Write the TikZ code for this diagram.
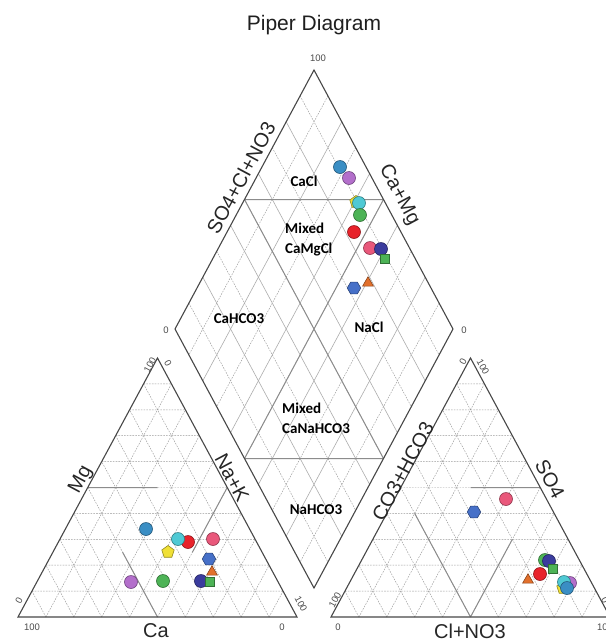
\documentclass[tikz,border=0pt]{standalone}
\usepackage{fontspec}
\setmainfont{Liberation Sans}
\newfontfamily\regionfont{Carlito}
\usetikzlibrary{calc,shapes.geometric}

\definecolor{cSteel}{HTML}{3A8EC4}
\definecolor{cPurple}{HTML}{B36FCB}
\definecolor{cCyan}{HTML}{4FC9D4}
\definecolor{cGreen}{HTML}{4DB356}
\definecolor{cRed}{HTML}{E8232B}
\definecolor{cPink}{HTML}{E9587B}
\definecolor{cNavy}{HTML}{3B3C9E}
\definecolor{cHex}{HTML}{4670C8}
\definecolor{cOrange}{HTML}{E2702C}
\definecolor{cYellow}{HTML}{F0E036}

\begin{document}
\begin{tikzpicture}[x=1pt,y=-1pt]
\tikzset{
  frame/.style={draw=black!72, line width=1.1pt, line join=miter},
  griddash/.style={draw=black!40, line width=0.45pt, dash pattern=on 1.6pt off 1.2pt},
  gridsolid/.style={draw=black!32, line width=0.6pt},
  classline/.style={draw=black!45, line width=1pt},
  tick/.style={font=\fontsize{9.5}{11}\selectfont, text=black!70, inner sep=0pt},
  axlab/.style={font=\fontsize{20}{24}\selectfont, text=black!85, inner sep=0pt},
  region/.style={font=\regionfont\bfseries\fontsize{15}{20}\selectfont, align=left, inner sep=0pt},
  mk/.style={draw=#1!62!black, fill=#1, line width=0.6pt, inner sep=0pt},
  circ/.style={mk=#1, circle, minimum size=13pt},
  sqr/.style={mk=#1, rectangle, minimum size=9pt},
  hexa/.style={mk=#1, regular polygon, regular polygon sides=6, minimum size=13.5pt},
  penta/.style={mk=#1, regular polygon, regular polygon sides=5, minimum size=13pt},
  tri/.style={mk=#1, regular polygon, regular polygon sides=3, minimum size=12.5pt}
}
\useasboundingbox[fill=white] (0,0) rectangle (606,641);

\coordinate (CaV) at (18,617);
\coordinate (NaV) at (297,617);
\coordinate (MgV) at (157.5,358);
\coordinate (CoV) at (331,617);
\coordinate (ClV) at (610,617);
\coordinate (SoV) at (470.5,358);
\coordinate (DT) at (314,70);
\coordinate (DL) at (175,329);
\coordinate (DR) at (453,329);
\coordinate (DB) at (314,588);

\foreach \P/\Q/\R in {CaV/NaV/MgV, CoV/ClV/SoV}{
  \foreach \i in {1,...,9}{
    \draw[griddash] ($(\P)!\i/10!(\R)$) -- ($(\Q)!\i/10!(\R)$)
      ($(\P)!\i/10!(\Q)$) -- ($(\P)!\i/10!(\R)$)
      ($(\Q)!\i/10!(\P)$) -- ($(\Q)!\i/10!(\R)$);
  }
}
\foreach \i in {1,...,9}{
  \ifodd\i \def\g{griddash}\else\def\g{gridsolid}\fi
  \draw[\g] ($(DT)!\i/10!(DL)$) -- ($(DR)!\i/10!(DB)$)
    ($(DT)!\i/10!(DR)$) -- ($(DL)!\i/10!(DB)$);
}

\draw[classline] (barycentric cs:CaV=.5,MgV=.5) -- (barycentric cs:CaV=.25,NaV=.25,MgV=.5)
  (barycentric cs:CaV=.5,NaV=.5) -- (barycentric cs:CaV=.5,NaV=.25,MgV=.25)
  (barycentric cs:NaV=.5,MgV=.5) -- (barycentric cs:NaV=.5,CaV=.25,MgV=.25);
\draw[classline] (barycentric cs:SoV=.5,ClV=.5) -- (barycentric cs:SoV=.5,CoV=.25,ClV=.25)
  (barycentric cs:CoV=.5,ClV=.5) -- (barycentric cs:CoV=.5,ClV=.1,SoV=.4)
  (barycentric cs:CoV=.5,ClV=.5) -- (barycentric cs:ClV=.5,CoV=.2,SoV=.3);
\draw[classline] ($(DT)!.5!(DL)$) -- ($(DR)!.5!(DB)$)
  ($(DT)!.5!(DR)$) -- ($(DL)!.5!(DB)$)
  ($(DT)!.5!(DL)$) -- ($(DT)!.5!(DR)$)
  ($(DL)!.5!(DB)$) -- ($(DR)!.5!(DB)$);

\draw[frame] (CaV) -- (NaV) -- (MgV) -- cycle;
\draw[frame] (CoV) -- (ClV) -- (SoV) -- cycle;
\draw[frame] (DT) -- (DR) -- (DB) -- (DL) -- cycle;

\node[font=\fontsize{21}{25}\selectfont, text=black!88] (title) at (314,25) {Piper Diagram};

\node[axlab, rotate=61.8] (labAn) at (241,178) {SO4+Cl+NO3};
\node[axlab, rotate=-61.8] (labCaMg) at (399,195) {Ca+Mg};
\node[axlab, rotate=61.8] (labMg) at (81,480) {Mg};
\node[axlab, rotate=-61.8] (labNaK) at (232,478) {Na+K};
\node[axlab] (labCa) at (156,631) {Ca};
\node[axlab, rotate=61.8] (labCO) at (403,471) {CO3+HCO3};
\node[axlab, rotate=-61.8] (labSO) at (550,479) {SO4};
\node[axlab] (labCl) at (470,631) {Cl+NO3};

\foreach \x/\y/\r/\t [count=\k] in {318/58/0/100, 166/330/0/0, 464/330/0/0,
  150/365/61.8/100, 168/363/-61.8/0, 19/601/61.8/0, 301/604/-61.8/100,
  32/627/0/100, 282/627/0/0, 463/362/61.8/0, 483/367/-61.8/100,
  335/600/61.8/100, 605/600/-61.8/0, 338/627/0/0, 605/627/0/100}
  \node[tick, rotate=\r] (tk\k) at (\x,\y) {\t};

\node[region] (regCaCl) at (304,181) {CaCl};
\node[region, anchor=west] (regCaMgCl) at (285,240) {Mixed\\CaMgCl};
\node[region] (regCaHCO) at (239,319) {CaHCO3};
\node[region] (regNaCl) at (369,327) {NaCl};
\node[region, anchor=west] (regMix) at (282,418) {Mixed\\CaNaHCO3};
\node[region] (regNaHCO) at (316,510) {NaHCO3};

\foreach \x/\y/\s/\c [count=\k] in {146/529/circ/cSteel, 188/542/circ/cRed,
  178/539/circ/cCyan, 213/539/circ/cPink, 168/552/penta/cYellow, 209/559/hexa/cHex,
  131/582/circ/cPurple, 163/581/circ/cGreen, 201/581/circ/cNavy, 210/582/sqr/cGreen,
  212/572/tri/cOrange}
  \node[\s=\c] (cat\k) at (\x,\y) {};
\foreach \x/\y/\s/\c [count=\k] in {356/202/penta/cYellow, 340/167/circ/cSteel,
  349/178/circ/cPurple, 359/203/circ/cCyan, 360/215/circ/cGreen, 354/232/circ/cRed,
  370/248/circ/cPink, 381/249/circ/cNavy, 385/259/sqr/cGreen, 368/283/tri/cOrange,
  354/288/hexa/cHex}
  \node[\s=\c] (dia\k) at (\x,\y) {};
\foreach \x/\y/\s/\c [count=\k] in {506/499/circ/cPink, 474/512/hexa/cHex,
  545/560/circ/cGreen, 549/561/circ/cNavy, 553/569/sqr/cGreen, 540/574/circ/cRed,
  528/580/tri/cOrange, 563/588/penta/cYellow, 570/583/circ/cPurple,
  564/582/circ/cCyan, 567/588/circ/cSteel}
  \node[\s=\c] (an\k) at (\x,\y) {};
\end{tikzpicture}
\end{document}
